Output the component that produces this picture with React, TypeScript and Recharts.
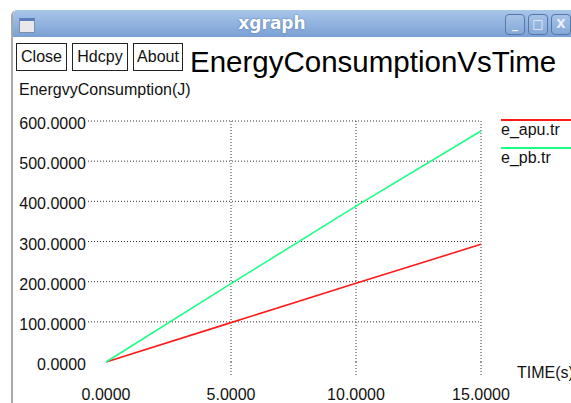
import React from 'react';
import { LineChart, Line, XAxis, YAxis, CartesianGrid } from 'recharts';

const times = [0, 5, 10, 15];
const eApu = [0, 98, 196, 293];
const ePb = [0, 195, 388, 575];
const yTicks = [0, 100, 200, 300, 400, 500, 600];
const xTicks = [0, 5, 10, 15];
const seriesKeys = ['apu', 'pb'];
const seriesNames = ['e_apu.tr', 'e_pb.tr'];
const seriesColors = ['#ff1a1a', '#1aff85'];
const windowTitle = 'xgraph';
const titleText = 'EnergyConsumptionVsTime';
const yLabel = 'EnergvyConsumption(J)';
const xLabel = 'TIME(s)';
const buttons = ['Close', 'Hdcpy', 'About'];

const data = times.map((t, i) => ({ t, apu: eApu[i], pb: ePb[i] }));

const FONT = '"Liberation Sans", Arial, sans-serif';
const GRID = '#333';

const YTick = (props: any) => {
  const { x, y, payload } = props;
  return (
    <g>
      {payload.value !== 0 && (
        <line x1={x - 18} y1={y} x2={x} y2={y} stroke={GRID} strokeDasharray="1 2" />
      )}
      <text x={x - 20} y={y + 8} textAnchor="end" fontFamily={FONT} fontSize={16} fill="#111">
        {Number(payload.value).toFixed(4)}
      </text>
    </g>
  );
};

const XTick = (props: any) => {
  const { x, y, payload } = props;
  return (
    <g>
      {payload.value !== 0 && (
        <line x1={x} y1={y} x2={x} y2={y + 15} stroke={GRID} strokeDasharray="1 2" />
      )}
      <text x={x} y={y + 38} textAnchor="middle" fontFamily={FONT} fontSize={16} fill="#111">
        {Number(payload.value).toFixed(4)}
      </text>
    </g>
  );
};

const btnPos = [
  { left: 16, width: 51 },
  { left: 72, width: 56 },
  { left: 133, width: 50 },
];

export default function App() {
  return (
    <div
      style={{
        position: 'absolute',
        left: 0,
        top: 0,
        width: 571,
        height: 403,
        overflow: 'hidden',
        background: '#fff',
        fontFamily: FONT,
      }}
    >
      {/* window frame */}
      <div
        style={{
          position: 'absolute',
          left: 11,
          top: 10,
          width: 600,
          height: 420,
          borderLeft: '2px solid #a8a8a8',
          borderTopLeftRadius: 6,
          overflow: 'hidden',
        }}
      >
        <div
          style={{
            position: 'absolute',
            left: 0,
            top: 0,
            width: 600,
            height: 27,
            background: 'linear-gradient(#a9c6ea, #7aa1d4)',
          }}
        />
      </div>
      {/* window icon */}
      <div
        style={{
          position: 'absolute',
          left: 19,
          top: 18,
          width: 14,
          height: 11,
          background: '#e8e8e8',
          border: '1px solid #7c8ea8',
          borderTop: '3px solid #5a7fb8',
        }}
      />
      <div
        style={{
          position: 'absolute',
          left: 236,
          top: 13,
          width: 72,
          textAlign: 'center',
          color: '#fff',
          fontFamily: '"DejaVu Sans", sans-serif',
          fontWeight: 'bold',
          fontSize: 17,
          textShadow: '0 0 2px #4a6fa5',
        }}
      >
        {windowTitle}
      </div>
      {[505, 528, 551].map((l, i) => (
        <div
          key={i}
          style={{
            position: 'absolute',
            left: l,
            top: 14,
            width: 18,
            height: 19,
            borderRadius: 4,
            border: '1px solid #5577aa',
            background: 'linear-gradient(#a7c3e6, #85a9d8)',
            color: '#eef',
            fontSize: 12,
            textAlign: 'center',
            lineHeight: '19px',
            fontFamily: '"DejaVu Sans", sans-serif',
            fontWeight: 'bold',
          }}
        >
          {i === 0 ? '_' : i === 1 ? '□' : 'X'}
        </div>
      ))}

      {/* buttons */}
      {buttons.map((b, i) => (
        <div
          key={b}
          style={{
            position: 'absolute',
            left: btnPos[i].left,
            top: 43,
            width: btnPos[i].width - 2,
            height: 26,
            border: '1px solid #222',
            fontSize: 16,
            lineHeight: '26px',
            textAlign: 'center',
            color: '#111',
          }}
        >
          {b}
        </div>
      ))}

      <div
        style={{
          position: 'absolute',
          left: 190,
          top: 44,
          fontSize: 29.5,
          color: '#000',
          whiteSpace: 'nowrap',
          lineHeight: '36px',
        }}
      >
        {titleText}
      </div>
      <div
        style={{
          position: 'absolute',
          left: 19,
          top: 81,
          fontSize: 16,
          color: '#111',
          whiteSpace: 'nowrap',
          lineHeight: '18px',
        }}
      >
        {yLabel}
      </div>
      <div
        style={{
          position: 'absolute',
          left: 517,
          top: 364,
          fontSize: 16,
          color: '#111',
          whiteSpace: 'nowrap',
          lineHeight: '18px',
        }}
      >
        {xLabel}
      </div>

      {/* legend */}
      {seriesNames.map((n, i) => (
        <div key={n}>
          <div
            style={{
              position: 'absolute',
              left: 501,
              top: 119 + i * 28,
              width: 80,
              height: 2,
              background: seriesColors[i],
            }}
          />
          <div
            style={{
              position: 'absolute',
              left: 501,
              top: 121 + i * 28,
              fontSize: 16,
              lineHeight: '18px',
              color: '#111',
              whiteSpace: 'nowrap',
            }}
          >
            {n}
          </div>
        </div>
      ))}

      <div style={{ position: 'absolute', left: 0, top: 0 }}>
        <LineChart
          width={571}
          height={403}
          data={data}
          margin={{ top: 121, right: 90, bottom: 11, left: 16 }}
        >
          <CartesianGrid
            stroke={GRID}
            strokeDasharray="1 2"
            horizontalValues={[100, 200, 300, 400, 500, 600]}
            verticalValues={[5, 10, 15]}
          />
          <XAxis
            dataKey="t"
            type="number"
            domain={[0, 15]}
            ticks={xTicks}
            axisLine={false}
            tickLine={false}
            tickSize={0}
            tickMargin={0}
            height={30}
            tick={<XTick />}
            interval={0}
          />
          <YAxis
            type="number"
            domain={[0, 600]}
            ticks={yTicks}
            axisLine={false}
            tickLine={false}
            tickSize={0}
            tickMargin={0}
            width={90}
            tick={<YTick />}
            interval={0}
          />
          {seriesKeys.map((k, i) => (
            <Line
              key={k}
              type="linear"
              dataKey={k}
              name={seriesNames[i]}
              stroke={seriesColors[i]}
              strokeWidth={1.6}
              dot={false}
              isAnimationActive={false}
            />
          ))}
        </LineChart>
      </div>
    </div>
  );
}
